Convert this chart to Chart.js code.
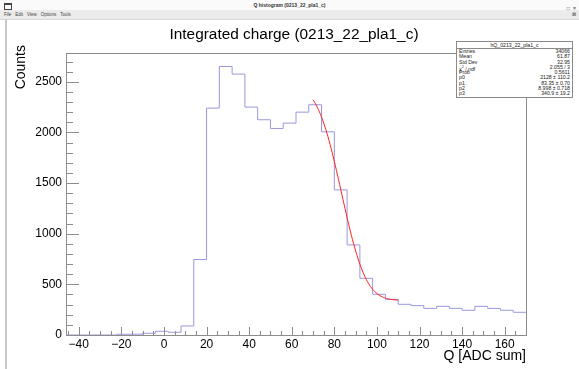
<!DOCTYPE html>
<html>
<head>
<meta charset="utf-8">
<script src="https://cdn.jsdelivr.net/npm/chart.js@4.4.1/dist/chart.umd.min.js"></script>
<style>
  body { margin: 0; background: #fff; font-family: "Liberation Sans", Arial, sans-serif; }
  #wrap { position: relative; width: 579px; height: 369px; overflow: hidden; background: #fff; }
  #cv { position: absolute; left: 0; top: 0; }
  .titlebar { position: absolute; left: 0; top: 0; width: 579px; height: 10px; background: #fafafa;
    font-size: 5px; font-weight: bold; color: #333; text-align: center; line-height: 11px; }
  .winicon { position: absolute; left: 4px; top: 3px; width: 6px; height: 4px; border: 1px solid #444; border-top-width: 2px; }
  .btns { position: absolute; right: 2px; top: 3px; font-size: 5px; color: #555; letter-spacing: 1px; }
  .menubar { position: absolute; left: 0; top: 10px; width: 579px; height: 9px; background: #ebebeb;
    border-bottom: 1px solid #d8d8d8; font-size: 4.5px; color: #444; line-height: 9px; }
  .menubar span { margin-left: 4px; }
  .menubar .x { position: absolute; right: 3px; top: 0; }
  .edge { position: absolute; left: 5px; top: 19px; width: 2px; height: 350px; background: #c9c9c9; }
  .stats { position: absolute; left: 456px; top: 41px; width: 115px; height: 55px; background: #fff;
    border: 1px solid #8a8a8a; font-size: 5.2px; color: #222; }
  .stats .hd { text-align: center; height: 6px; line-height: 6px; border-bottom: 1px solid #8a8a8a; }
  .stats .row { display: flex; justify-content: space-between; padding: 0 2px; height: 5.3px; line-height: 5.3px; }
</style>
</head>
<body>
<div id="wrap">
  <canvas id="cv" width="579" height="369"></canvas>
  <div class="titlebar"><div class="winicon"></div>Q histogram (0213_22_pla1_c)<div class="btns">_ &#9633; &#215;</div></div>
  <div class="menubar"><span>File</span><span>Edit</span><span>View</span><span>Options</span><span>Tools</span><span class="x">&#8864;</span></div>
  <div class="edge"></div>
  <div class="stats" id="stats"></div>
</div>
<script>
// histogram: 36 bins of width 6 starting at -46
const binLow = [-46, -40, -34, -28, -22, -16, -10, -4, 2, 8, 14, 20, 26, 32, 38, 44, 50, 56,
                62, 68, 74, 80, 86, 92, 98, 104, 110, 116, 122, 128, 134, 140, 146, 152, 158, 164];
const counts = [0, 0, 0, 0, 7, 8, 17, 37, 27, 89, 745, 2240, 2651, 2576, 2250, 2125, 2039, 2092,
                2200, 2273, 2006, 1433, 889, 560, 402, 352, 303, 290, 263, 283, 263, 244, 283, 263, 244, 224];
const xHigh = 170;

// fit parameters p0..p3 and fit range
const fitParams = [2128, 83.35, 8.998, 340.9];
const fitRange = [70, 110];

const xTicks = [-40, -20, 0, 20, 40, 60, 80, 100, 120, 140, 160];
const yTicks = [0, 500, 1000, 1500, 2000, 2500];

const statNames = ['Entries', 'Mean', 'Std Dev', '\u03C7\u00B2 / ndf', 'Prob', 'p0', 'p1', 'p2', 'p3'];
const statValues = ['34066', '61.87', '32.95', '2.055 / 3', '0.5611',
                    '2128 \u00B1 110.2', '83.35 \u00B1 0.70', '8.998 \u00B1 0.718', '340.9 \u00B1 19.2'];

// stats box
const stats = document.getElementById('stats');
let html = '<div class="hd">hQ_0213_22_pla1_c</div>';
statNames.forEach((n, i) => {
  const name = n.replace('\u03C7\u00B2', '\u03C7<sup style="font-size:3.5px">2</sup>');
  html += '<div class="row"><span>' + name + '</span><span>' + statValues[i] + '</span></div>';
});
stats.innerHTML = html;

// step outline points (horizontal across each bin, then vertical at the edge)
const histPts = binLow.map((x, i) => ({ x: x, y: counts[i] }));
histPts.push({ x: xHigh, y: counts[counts.length - 1] });

// erf, Abramowitz-Stegun 7.1.26
function erf(z) {
  const s = z < 0 ? -1 : 1;
  z = Math.abs(z);
  const t = 1 / (1 + 0.3275911 * z);
  const y = 1 - (((((1.061405429 * t - 1.453152027) * t) + 1.421413741) * t - 0.284496736) * t + 0.254829592) * t * Math.exp(-z * z);
  return s * y;
}
function fitFunc(x) {
  const [p0, p1, p2, p3] = fitParams;
  return p0 * 0.5 * (1 - erf((x - p1) / (Math.SQRT2 * p2))) + p3;
}
const fitPts = [];
for (let x = fitRange[0]; x <= fitRange[1] + 1e-9; x += 0.5) fitPts.push({ x: x, y: fitFunc(x) });

const axisCol = '#8c8c8c';
const font = { family: 'Liberation Sans', size: 12 };

// frame plus inside tick marks, ROOT style
const frameTicks = {
  id: 'frameTicks',
  afterDatasetsDraw(chart) {
    const { ctx, chartArea: a, scales: { x, y } } = chart;
    ctx.save();
    ctx.strokeStyle = axisCol;
    ctx.lineWidth = 1;
    ctx.strokeRect(Math.round(a.left) + 0.5, Math.round(a.top) + 0.5,
                   Math.round(a.right - a.left), Math.round(a.bottom - a.top));
    ctx.beginPath();
    for (let v = -45; v <= 170; v += 5) {
      const px = Math.round(x.getPixelForValue(v)) + 0.5;
      const len = v % 20 === 0 ? 8 : 4;
      ctx.moveTo(px, a.bottom); ctx.lineTo(px, a.bottom - len);
    }
    for (let v = 0; v <= y.max; v += 100) {
      const py = Math.round(y.getPixelForValue(v)) + 0.5;
      const len = v % 500 === 0 ? 13 : 7;
      ctx.moveTo(a.left, py); ctx.lineTo(a.left + len, py);
    }
    ctx.stroke();
    ctx.restore();
  }
};

// canvas title and y axis title
const titlePlugin = {
  id: 'histTitle',
  afterDraw(chart) {
    const ctx = chart.ctx;
    ctx.save();
    ctx.fillStyle = '#000';
    ctx.font = '15.4px "Liberation Sans"';
    ctx.textAlign = 'center';
    ctx.textBaseline = 'middle';
    ctx.fillText('Integrated charge (0213_22_pla1_c)', 294, 35);
    ctx.translate(21, 45);
    ctx.rotate(-Math.PI / 2);
    ctx.font = '14px "Liberation Sans"';
    ctx.textAlign = 'right';
    ctx.fillText('Counts', 0, 0);
    ctx.restore();
  }
};

new Chart(document.getElementById('cv'), {
  type: 'line',
  data: {
    datasets: [
      { data: fitPts, borderColor: '#ff2020', borderWidth: 1, pointRadius: 0, tension: 0, order: 0 },
      { data: histPts, stepped: 'before', borderColor: '#9a98de', borderWidth: 1, pointRadius: 0, order: 1 }
    ]
  },
  options: {
    responsive: false,
    animation: false,
    layout: { padding: { left: 6, right: 53, top: 53, bottom: 4 } },
    plugins: { legend: { display: false }, tooltip: { enabled: false } },
    scales: {
      x: {
        type: 'linear', min: -46, max: xHigh,
        afterBuildTicks: s => { s.ticks = xTicks.map(v => ({ value: v })); },
        afterFit: s => { s.height = 30; },
        grid: { display: false, drawTicks: false },
        border: { display: false },
        ticks: { font: font, color: '#000', padding: 2, maxRotation: 0,
                 callback: v => v < 0 ? '\u2212' + Math.abs(v) : String(v) },
        title: { display: true, text: 'Q [ADC sum]', align: 'end', color: '#000',
                 font: { family: 'Liberation Sans', size: 14 }, padding: { top: 0, bottom: 0 } }
      },
      y: {
        type: 'linear', min: 0, max: 2784,
        afterBuildTicks: s => { s.ticks = yTicks.map(v => ({ value: v })); },
        afterFit: s => { s.width = 60; },
        grid: { display: false, drawTicks: false },
        border: { display: false },
        ticks: { font: font, color: '#000', padding: 4, callback: v => String(v) }
      }
    }
  },
  plugins: [frameTicks, titlePlugin]
});
</script>
</body>
</html>
